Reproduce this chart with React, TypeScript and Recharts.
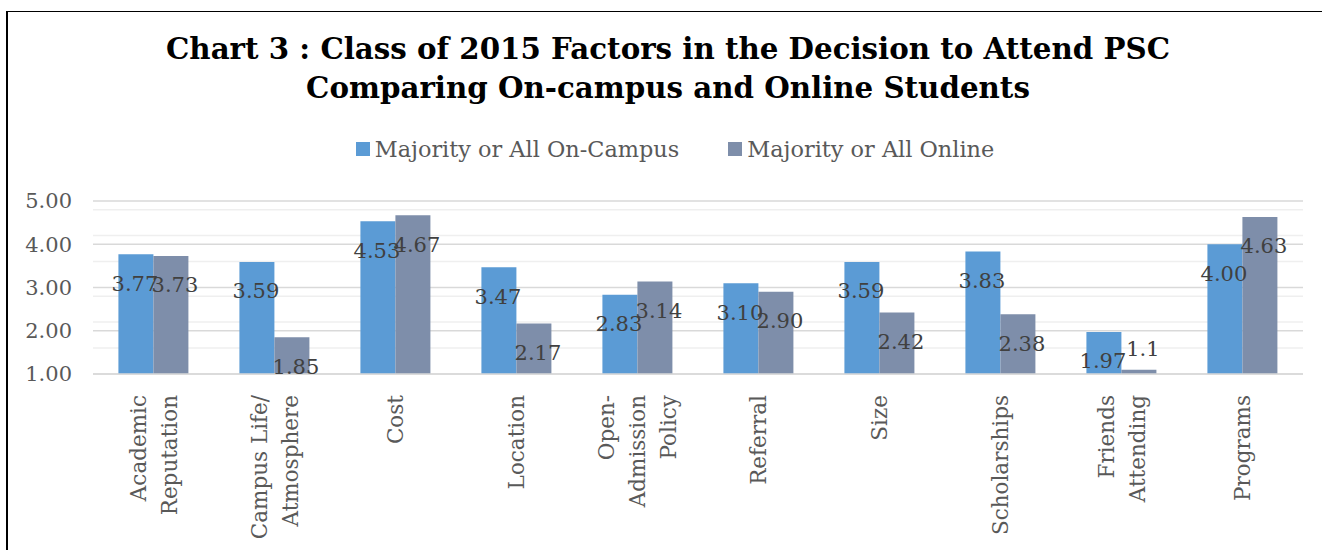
import React from 'react';
import { BarChart, Bar, XAxis, YAxis, CartesianGrid, Legend, LabelList } from 'recharts';

const factors = [
  'Academic|Reputation',
  'Campus Life/|Atmosphere',
  'Cost',
  'Location',
  'Open-|Admission|Policy',
  'Referral',
  'Size',
  'Scholarships',
  'Friends|Attending',
  'Programs',
];
const onCampus = [3.77, 3.59, 4.53, 3.47, 2.83, 3.10, 3.59, 3.83, 1.97, 4.00];
const online = [3.73, 1.85, 4.67, 2.17, 3.14, 2.90, 2.42, 2.38, 1.1, 4.63];
const onCampusText = ['3.77', '3.59', '4.53', '3.47', '2.83', '3.10', '3.59', '3.83', '1.97', '4.00'];
const onlineText = ['3.73', '1.85', '4.67', '2.17', '3.14', '2.90', '2.42', '2.38', '1.1', '4.63'];
const yTicks = [1, 2, 3, 4, 5];
const minorTicks = [1.2, 1.4, 1.6, 1.8, 2.2, 2.4, 2.6, 2.8, 3.2, 3.4, 3.6, 3.8, 4.2, 4.4, 4.6, 4.8];

const seriesNames = ['Majority or All On-Campus', 'Majority or All Online'];
const colors = ['#5B9BD5', '#7E8EAA'];

const data = factors.map((f, i) => ({
  name: f,
  onCampus: onCampus[i],
  online: online[i],
  onCampusText: onCampusText[i],
  onlineText: onlineText[i],
}));

const FONT = '"DejaVu Serif", serif';

const XTick = (props: any) => {
  const { x, payload } = props;
  const lines = String(payload.value).split('|');
  const lh = 31;
  return (
    <g transform={`translate(${x},395) rotate(-90)`}>
      {lines.map((l, i) => (
        <text
          key={i}
          x={0}
          y={(i - (lines.length - 1) / 2) * lh}
          dy="0.35em"
          textAnchor="end"
          fontFamily={FONT}
          fontSize={21.5}
          fill="#595959"
        >
          {l}
        </text>
      ))}
    </g>
  );
};

// shift: online labels sit a little right of their bar
const makeLabel = (key: 'onCampusText' | 'onlineText', shift: number) => (props: any) => {
  const { x, y, width, height, index } = props;
  const txt = data[index][key];
  const cy = height < 30 ? y - 21 : y + 29;
  return (
    <text
      x={x + width / 2 + shift}
      y={cy}
      dy="0.35em"
      textAnchor="middle"
      fontFamily={FONT}
      fontSize={21}
      fill="#404040"
    >
      {txt}
    </text>
  );
};

const LegendContent = () => (
  <div style={{ display: 'flex', justifyContent: 'center', fontFamily: FONT, fontSize: 22.4, color: '#595959' }}>
    {seriesNames.map((n, i) => (
      <div key={n} style={{ display: 'flex', alignItems: 'center', marginRight: i === 0 ? 49 : 0 }}>
        <span style={{ display: 'inline-block', width: 14, height: 14, background: colors[i], marginRight: 5 }} />
        <span>{n}</span>
      </div>
    ))}
  </div>
);

export default function App() {
  return (
    <div style={{ position: 'absolute', left: 0, top: 0, width: 1322, height: 550, background: '#fff', overflow: 'hidden' }}>
      <div
        style={{
          position: 'absolute',
          left: 6,
          top: 11,
          width: 1400,
          height: 600,
          borderLeft: '2px solid #000',
          borderTop: '1px solid #000',
        }}
      />
      <div
        style={{
          position: 'absolute',
          left: 6,
          top: 29,
          width: 1324,
          textAlign: 'center',
          fontFamily: FONT,
          fontWeight: 'bold',
          fontSize: 29.3,
          lineHeight: '39px',
          color: '#000',
        }}
      >
        Chart 3 : Class of 2015 Factors in the Decision to Attend PSC
        <br />
        Comparing On-campus and Online Students
      </div>
      <div style={{ position: 'absolute', left: 0, top: 0 }}>
        <BarChart
          width={1322}
          height={550}
          data={data}
          margin={{ top: 201, right: 19, left: 13, bottom: 0 }}
          barCategoryGap="21%"
          barGap={0}
        >
          <CartesianGrid horizontalValues={minorTicks} vertical={false} stroke="#efefef" strokeWidth={1.5} />
          <CartesianGrid vertical={false} stroke="#d9d9d9" strokeWidth={1.5} />
          <XAxis
            dataKey="name"
            height={176}
            interval={0}
            tickLine={false}
            axisLine={{ stroke: '#d9d9d9', strokeWidth: 1.5 }}
            tick={<XTick />}
          />
          <YAxis
            width={80}
            domain={[1, 5]}
            ticks={yTicks}
            tickFormatter={(v: number) => v.toFixed(2)}
            axisLine={false}
            tickLine={false}
            tickMargin={15}
            tick={{ fontFamily: FONT, fontSize: 21, fill: '#595959' }}
          />
          <Legend
            verticalAlign="middle"
            layout="horizontal"
            wrapperStyle={{ top: 136, left: 14, width: 1322 }}
            content={<LegendContent />}
          />
          <Bar dataKey="onCampus" name={seriesNames[0]} fill={colors[0]} isAnimationActive={false}>
            <LabelList dataKey="onCampusText" content={makeLabel('onCampusText', -1)} />
          </Bar>
          <Bar dataKey="online" name={seriesNames[1]} fill={colors[1]} isAnimationActive={false}>
            <LabelList dataKey="onlineText" content={makeLabel('onlineText', 4)} />
          </Bar>
        </BarChart>
      </div>
    </div>
  );
}
